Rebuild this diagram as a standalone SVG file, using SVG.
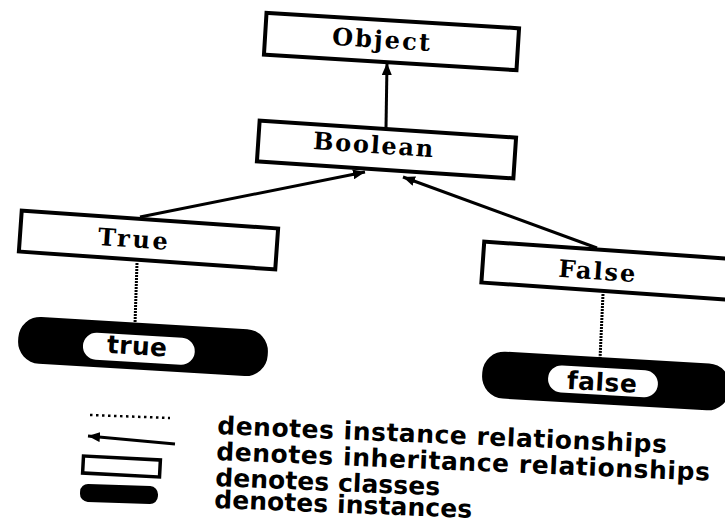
<svg xmlns="http://www.w3.org/2000/svg" width="725" height="527" viewBox="0 0 725 527">
<style>
.cls{fill:#fff;stroke:#000;stroke-width:4}
.inst{fill:#000}
.instlbl{fill:#fff}
.ser{font-family:"DejaVu Serif","Liberation Serif",serif;font-weight:bold;font-size:24px;fill:#000}
.san{font-family:"DejaVu Sans","Liberation Sans",sans-serif;font-weight:bold;font-size:25px;fill:#000}
.inh{stroke:#000;stroke-width:3;fill:none;marker-end:url(#ah)}
.ins{stroke:#000;stroke-width:3;fill:none;stroke-dasharray:2 1}
</style>
<defs>
<marker id="ah" viewBox="0 0 12 10" refX="12" refY="5" markerWidth="12" markerHeight="10" orient="auto" markerUnits="userSpaceOnUse">
<path d="M0,0 L12,5 L0,10 z" fill="#000"/>
</marker>
</defs>
<rect width="725" height="527" fill="#fff"/>
<g id="connectors">
<line class="inh" x1="386" y1="128" x2="387" y2="63"/>
<line class="inh" x1="140" y1="217" x2="365" y2="172"/>
<line class="inh" x1="597" y1="248" x2="403" y2="177"/>
<line class="ins" x1="137" y1="263" x2="135" y2="324"/>
<line class="ins" x1="603" y1="294" x2="600" y2="359"/>
</g>
<g id="node-object" transform="rotate(3.5 391.5 41.5)">
<rect class="cls" x="265" y="20.5" width="253" height="42"/>
<text class="ser" x="381" y="48.5" text-anchor="middle" textLength="98" lengthAdjust="spacing">Object</text>
</g>
<g id="node-boolean" transform="rotate(3.8 386.5 149.5)">
<rect class="cls" x="258" y="129" width="257" height="41"/>
<text class="ser" x="373" y="154" text-anchor="middle" textLength="120" lengthAdjust="spacing">Boolean</text>
</g>
<g id="node-true" transform="rotate(4 148.5 240)">
<rect class="cls" x="20" y="219.5" width="257" height="41"/>
<text class="ser" x="133" y="248.5" text-anchor="middle" textLength="70" lengthAdjust="spacing">True</text>
</g>
<g id="node-false" transform="rotate(4 611 271)">
<rect class="cls" x="482.5" y="250.5" width="257" height="41"/>
<text class="ser" x="597" y="280.5" text-anchor="middle" textLength="77" lengthAdjust="spacing">False</text>
</g>
<g id="node-true-instance" transform="rotate(3.4 143 346.5)">
<rect class="inst" x="18" y="323" width="250" height="47" rx="22"/>
<rect class="instlbl" x="83" y="335.5" width="112" height="27" rx="13.5"/>
<text class="san" x="137" y="355" text-anchor="middle" textLength="60" lengthAdjust="spacing">true</text>
</g>
<g id="node-false-instance" transform="rotate(3.3 606 381)">
<rect class="inst" x="482" y="357.5" width="248" height="47" rx="22"/>
<rect class="instlbl" x="548" y="368" width="110" height="27" rx="13.5"/>
<text class="san" x="602" y="391" text-anchor="middle" textLength="70" lengthAdjust="spacing">false</text>
</g>
<g id="legend">
<line x1="90" y1="415" x2="170" y2="418" stroke="#000" stroke-width="2.5" stroke-dasharray="2.5 3.5"/>
<line class="inh" x1="175" y1="444" x2="88" y2="436"/>
<rect class="cls" x="83" y="458" width="77" height="17" transform="rotate(3 121.5 466.5)" style="stroke-width:3.5"/>
<rect class="inst" x="80" y="485" width="78" height="18" rx="8" transform="rotate(2 119 494)"/>
<text class="san" x="217" y="434" textLength="450" lengthAdjust="spacing" transform="rotate(2.4 217 434)">denotes instance relationships</text>
<text class="san" x="216" y="460" textLength="494" lengthAdjust="spacing" transform="rotate(2.4 216 460)">denotes inheritance relationships</text>
<text class="san" x="215" y="486" textLength="225" lengthAdjust="spacing" transform="rotate(2.4 215 486)">denotes classes</text>
<text class="san" x="214" y="508" textLength="258" lengthAdjust="spacing" transform="rotate(2.2 214 508)">denotes instances</text>
</g>
</svg>
